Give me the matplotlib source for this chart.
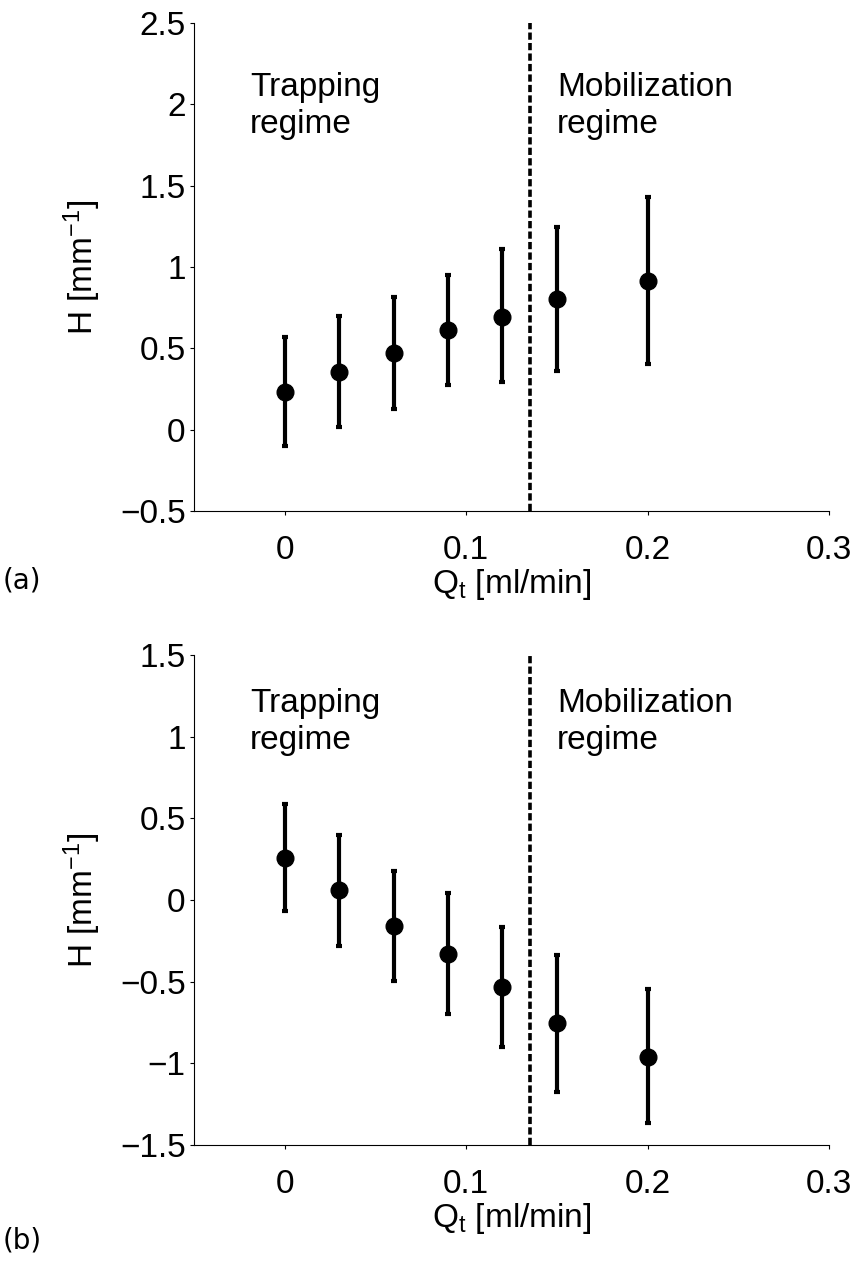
import matplotlib
matplotlib.use('Agg')
import matplotlib.pyplot as plt

# flow rates (ml/min)
q_t = [0, 0.03, 0.06, 0.09, 0.12, 0.15, 0.2]

# panel (a): mean H and error bar ends
h_a = [0.232, 0.355, 0.472, 0.613, 0.693, 0.804, 0.914]
h_a_top = [0.57, 0.699, 0.816, 0.951, 1.11, 1.246, 1.43]
h_a_bot = [-0.10, 0.017, 0.128, 0.275, 0.293, 0.361, 0.404]

# panel (b)
h_b = [0.259, 0.061, -0.159, -0.331, -0.533, -0.753, -0.96]
h_b_top = [0.588, 0.398, 0.177, 0.043, -0.166, -0.337, -0.545]
h_b_bot = [-0.066, -0.282, -0.496, -0.698, -0.90, -1.176, -1.366]

q_crit = 0.135  # boundary between regimes
x_ticks = [0, 0.1, 0.2, 0.3]
y_ticks_a = [-0.5, 0, 0.5, 1, 1.5, 2, 2.5]
y_ticks_b = [-1.5, -1, -0.5, 0, 0.5, 1, 1.5]

plt.rcParams['font.family'] = ['Liberation Sans', 'DejaVu Sans']
plt.rcParams['mathtext.fontset'] = 'custom'
plt.rcParams['mathtext.rm'] = 'Liberation Sans'
plt.rcParams['mathtext.it'] = 'Liberation Sans'
FS = 24

fig = plt.figure(figsize=(8.58, 12.64), dpi=100)
ax_a = fig.add_axes([0.2261, 0.5957, 0.7401, 0.3861])
ax_b = fig.add_axes([0.2261, 0.0941, 0.7401, 0.3877])


def draw(ax, h, top, bot, yticks, ylim, ytext, tag, tag_y):
    lo = [m - b for m, b in zip(h, bot)]
    hi = [t - m for m, t in zip(h, top)]
    ax.errorbar(q_t, h, yerr=[lo, hi], fmt='o', color='black', ms=12,
                elinewidth=3, capsize=2, capthick=3)
    ax.axvline(q_crit, color='black', lw=2.6, linestyle=(0, (2, 0.9)))
    ax.set_xlim(-0.05, 0.3)
    ax.set_ylim(*ylim)
    ax.set_xticks(x_ticks)
    ax.set_xticklabels(['0', '0.1', '0.2', '0.3'])
    ax.set_yticks(yticks)
    ax.set_yticklabels([('%g' % v).replace('-', '\u2212') for v in yticks])
    for s in ['top', 'right']:
        ax.spines[s].set_visible(False)
    for s in ['left', 'bottom']:
        ax.spines[s].set_linewidth(0.8)
    ax.tick_params(direction='out', length=3, width=0.8, labelsize=FS)
    ax.tick_params(axis='x', pad=14)
    ax.tick_params(axis='y', pad=3)
    ax.set_xlabel(r'Q$_{\rm t}$ [ml/min]', fontsize=FS, labelpad=1)
    ax.set_ylabel(r'H [mm$^{-1}$]', fontsize=FS, labelpad=12)
    ax.text(-0.019, ytext, 'Trapping\nregime', fontsize=FS, va='top',
            ha='left', linespacing=1.25)
    ax.text(0.150, ytext, 'Mobilization\nregime', fontsize=FS, va='top',
            ha='left', linespacing=1.25)
    fig.text(0.003, tag_y, tag, fontsize=20, family='DejaVu Sans',
             va='center', ha='left')


draw(ax_a, h_a, h_a_top, h_a_bot, y_ticks_a, (-0.5, 2.5), 2.2, '(a)', 1 - 580 / 1264)
draw(ax_b, h_b, h_b_top, h_b_bot, y_ticks_b, (-1.5, 1.5), 1.30, '(b)', 1 - 1240 / 1264)

fig.savefig('out.png', dpi=100)
